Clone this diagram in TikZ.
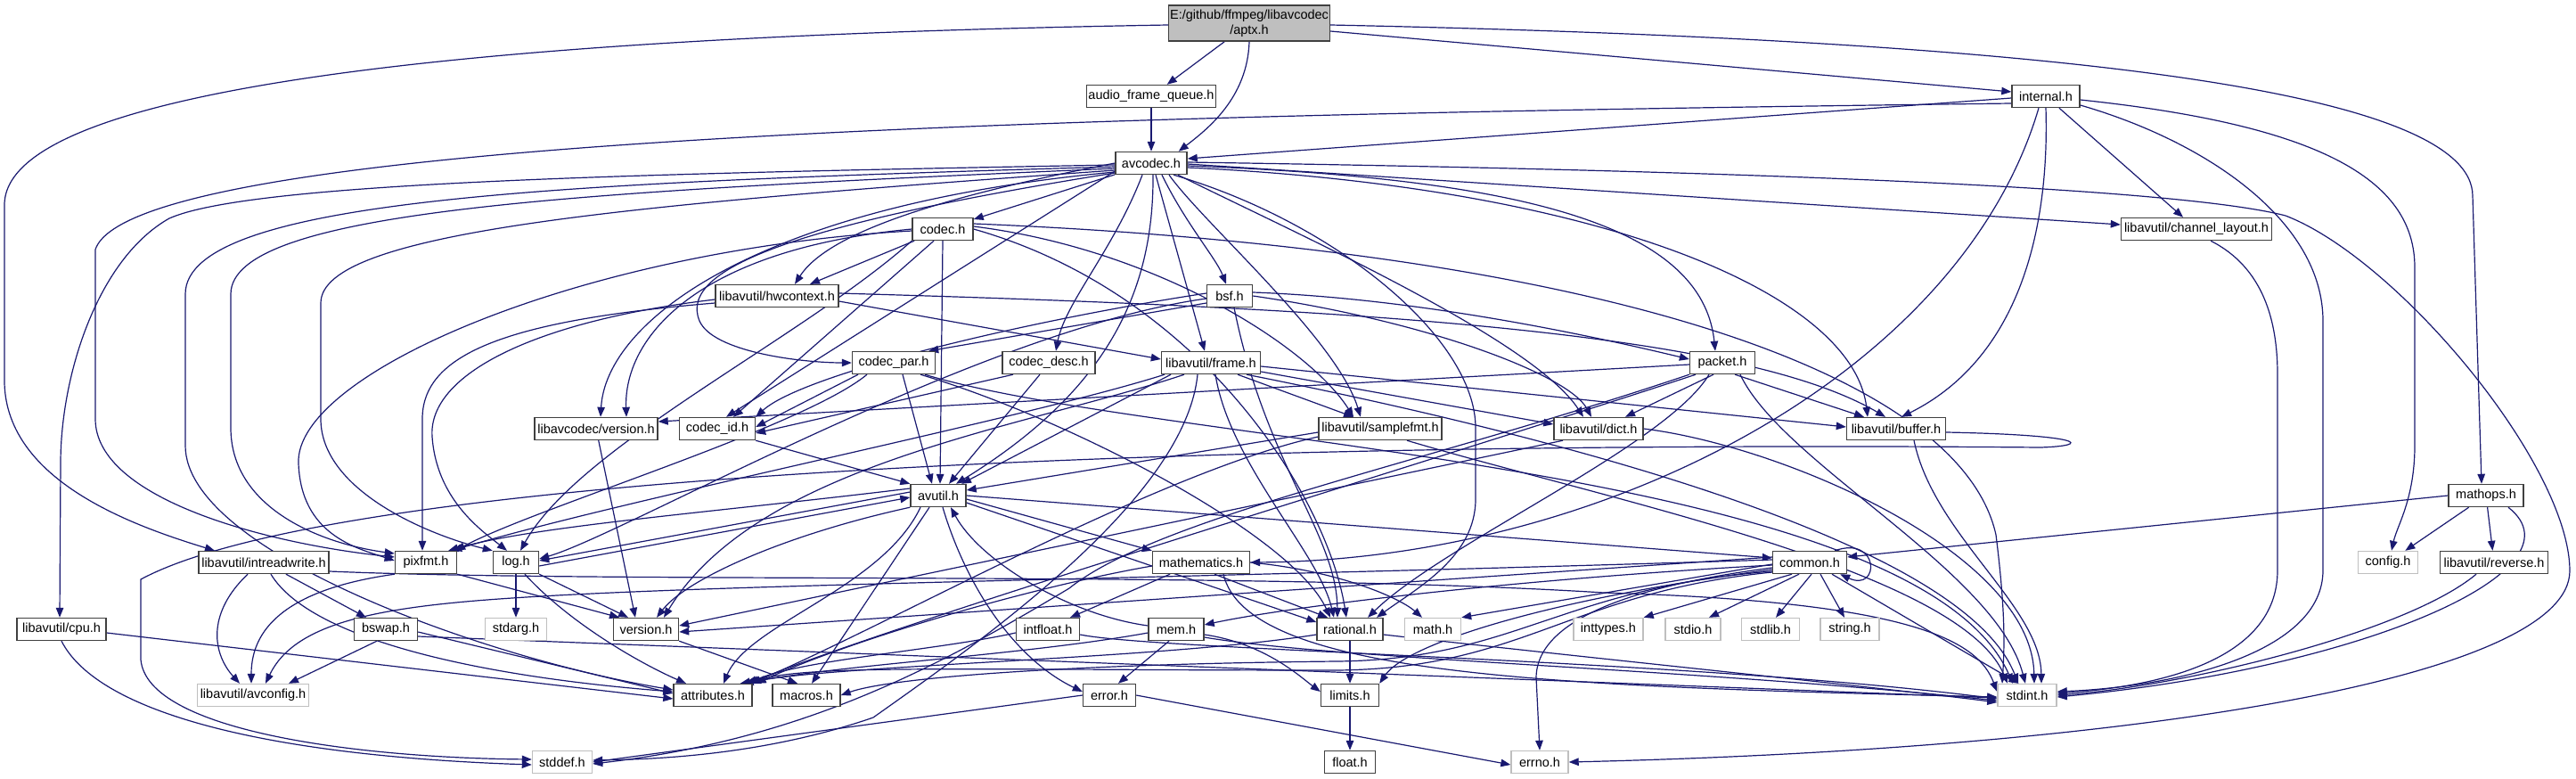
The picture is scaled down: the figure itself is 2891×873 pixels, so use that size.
\documentclass[tikz,border=0pt]{standalone}
\usepackage{fontspec}
\setmainfont{Liberation Sans}
\usetikzlibrary{arrows.meta}
\definecolor{edgec}{HTML}{191970}
\definecolor{grayb}{HTML}{BFBFBF}
\definecolor{darkb}{HTML}{404040}
\pgfdeclarelayer{bg}
\pgfsetlayers{bg,main}
\begin{document}
\begin{tikzpicture}[x=1pt,y=-1pt,
  box/.style={draw=darkb, line width=1.4pt, fill=white, minimum height=25pt, inner sep=0pt, font=\fontsize{14.5}{16.5}\selectfont, text=black},
  gbox/.style={box, draw=grayb},
  e/.style={draw=edgec, line width=1.2pt, -{Triangle[length=11pt,width=8.5pt]}}
]
\path[use as bounding box] (0,0) rectangle (2891,873);
% nodes
\node[box, fill=grayb, minimum width=181pt, minimum height=40pt, align=center] (aptx) at (1402,26) {E:/github/ffmpeg/libavcodec\\/aptx.h};
\node[box, minimum width=145pt] (afq) at (1292,108) {audio\_frame\_queue.h};
\node[box, minimum width=80pt] (avcodec) at (1292,183) {avcodec.h};
\node[box, minimum width=76pt] (internal) at (2296,108) {internal.h};
\node[box, minimum width=169pt] (chlayout) at (2465,257) {libavutil/channel\_layout.h};
\node[box, minimum width=68pt] (codec) at (1058,257) {codec.h};
\node[box, minimum width=138pt] (hwcontext) at (872,332) {libavutil/hwcontext.h};
\node[box, minimum width=51pt] (bsf) at (1380,332) {bsf.h};
\node[box, minimum width=93pt] (codecpar) at (1003,407) {codec\_par.h};
\node[box, minimum width=104pt] (codecdesc) at (1177,407) {codec\_desc.h};
\node[box, minimum width=111pt] (frame) at (1359,407) {libavutil/frame.h};
\node[box, minimum width=73pt] (packet) at (1933,407) {packet.h};
\node[box, minimum width=138pt] (lavcversion) at (669,481) {libavcodec/version.h};
\node[box, minimum width=85pt] (codecid) at (805,481) {codec\_id.h};
\node[box, minimum width=138pt] (samplefmt) at (1549,481) {libavutil/samplefmt.h};
\node[box, minimum width=100pt] (dict) at (1794,481) {libavutil/dict.h};
\node[box, minimum width=111pt] (buffer) at (2128,481) {libavutil/buffer.h};
\node[box, minimum width=62pt] (avutil) at (1053,556) {avutil.h};
\node[box, minimum width=84pt] (mathops) at (2790,556) {mathops.h};
\node[box, minimum width=146pt] (intreadwrite) at (296,631) {libavutil/intreadwrite.h};
\node[box, minimum width=69pt] (pixfmt) at (478,631) {pixfmt.h};
\node[box, minimum width=51pt] (log) at (579,631) {log.h};
\node[box, minimum width=109pt] (mathematics) at (1348,631) {mathematics.h};
\node[box, minimum width=83pt] (common) at (2031,631) {common.h};
\node[gbox, minimum width=67pt] (config) at (2680,631) {config.h};
\node[box, minimum width=121pt] (reverse) at (2799,631) {libavutil/reverse.h};
\node[box, minimum width=100pt] (cpu) at (69,706) {libavutil/cpu.h};
\node[box, minimum width=71pt] (bswap) at (433,706) {bswap.h};
\node[gbox, minimum width=69pt] (stdarg) at (579,706) {stdarg.h};
\node[box, minimum width=73pt] (version) at (725,706) {version.h};
\node[box, minimum width=71pt] (intfloat) at (1176,706) {intfloat.h};
\node[box, minimum width=62pt] (mem) at (1320,706) {mem.h};
\node[box, minimum width=74pt] (rational) at (1515,706) {rational.h};
\node[gbox, minimum width=63pt] (math) at (1608,706) {math.h};
\node[gbox, minimum width=78pt] (inttypes) at (1805,706) {inttypes.h};
\node[gbox, minimum width=62pt] (stdio) at (1900,706) {stdio.h};
\node[gbox, minimum width=65pt] (stdlib) at (1987,706) {stdlib.h};
\node[gbox, minimum width=66pt] (string) at (2076,706) {string.h};
\node[gbox, minimum width=125pt] (avconfig) at (284,780) {libavutil/avconfig.h};
\node[box, minimum width=88pt] (attributes) at (800,780) {attributes.h};
\node[box, minimum width=76pt] (macros) at (905,780) {macros.h};
\node[box, minimum width=59pt] (error) at (1245,780) {error.h};
\node[box, minimum width=65pt] (limits) at (1515,780) {limits.h};
\node[gbox, minimum width=66pt] (stdint) at (2275,780) {stdint.h};
\node[gbox, minimum width=67pt] (stddef) at (631,855) {stddef.h};
\node[box, minimum width=57pt] (float) at (1515,855) {float.h};
\node[gbox, minimum width=64pt] (errno) at (1728,855) {errno.h};

\begin{pgfonlayer}{bg}
\fill[white] (0,0) rectangle (2891,873);
% aptx
\draw[e] (aptx) -- (afq);
\draw[e] (aptx.south) .. controls (1400,110) and (1355,145) .. ([xshift=-10pt]avcodec.north east);
\draw[e] ([yshift=-9pt]aptx.east) -- ([yshift=5pt]internal.west);
\draw[e] ([yshift=-2pt]aptx.east) .. controls (2300,45) and (2775,100) .. (2775,220) -- ([xshift=-5pt]mathops.north);
\draw[e] ([yshift=-2pt]aptx.west) .. controls (600,40) and (5,90) .. (5,230) -- (5,430) .. controls (8,540) and (150,590) .. ([xshift=-55pt]intreadwrite.north);
% afq
\draw[e] (afq) -- (avcodec);
% internal
\draw[e] ([yshift=-2pt]internal.west) -- ([yshift=5pt]avcodec.east);
\draw[e] ([yshift=-8pt]internal.west) .. controls (1300,128) and (150,150) .. (107,280) -- (107,470) .. controls (107,560) and (300,610) .. ([yshift=6pt]pixfmt.west);
\draw[e] (internal.south) .. controls (2300,250) and (2270,400) .. ([xshift=6pt]buffer.north);
\draw[e] (internal) -- (chlayout);
\draw[e] ([xshift=-8pt]internal.south) .. controls (2200,420) and (1800,628) .. (mathematics.east);
\draw[e] ([yshift=-4pt]internal.east) .. controls (2600,140) and (2710,200) .. (2710,300) -- (2710,500) .. controls (2710,560) and (2690,590) .. ([xshift=4pt]config.north);
\draw[e] ([yshift=-10pt]internal.east) .. controls (2480,160) and (2607,250) .. (2607,360) -- (2607,640) .. controls (2607,730) and (2450,770) .. ([yshift=4pt]stdint.east);
% mathops
\draw[e] (mathops.west) -- ([yshift=6pt]common.east);
\draw[e] (mathops) -- (config);
\draw[e] (mathops) -- (reverse);
\draw[e] ([xshift=25pt]mathops.south) .. controls (2905,640) and (2650,750) .. ([yshift=-2pt]stdint.east);
\draw[e] ([xshift=-20pt]reverse.south) .. controls (2700,710) and (2450,770) .. (stdint.east);
% chlayout
\draw[e] ([xshift=16pt]chlayout.south) .. controls (2540,300) and (2556,360) .. (2556,420) -- (2556,640) .. controls (2556,730) and (2450,768) .. ([yshift=2pt]stdint.east);
% avcodec
\draw[e] (avcodec) -- (codec);
\draw[e] (avcodec.west) .. controls (1060,220) and (930,260) .. ([xshift=20pt]hwcontext.north);
\draw[e] ([xshift=-10pt]avcodec.south) .. controls (1250,280) and (1195,340) .. ([xshift=8pt]codecdesc.north);
\draw[e] ([xshift=2pt]avcodec.south) .. controls (1295,330) and (1240,440) .. ([xshift=20pt]avutil.north);
\draw[e] ([xshift=5pt]avcodec.south) -- ([xshift=-7pt]frame.north);
\draw[e] ([xshift=12pt]avcodec.south) .. controls (1330,250) and (1365,290) .. ([xshift=-4pt]bsf.north);
\draw[e] ([xshift=20pt]avcodec.south) .. controls (1350,250) and (1500,380) .. ([xshift=-22pt]samplefmt.north);
\draw[e] ([xshift=30pt]avcodec.south) .. controls (1450,260) and (1720,380) .. ([xshift=-17pt]dict.north);
\draw[e] ([yshift=-3pt]avcodec.east) .. controls (1700,200) and (1910,250) .. ([xshift=-8pt]packet.north);
\draw[e] ([yshift=-5pt]avcodec.east) .. controls (1800,210) and (2080,330) .. ([xshift=-32pt]buffer.north);
\draw[e] ([yshift=-1pt]avcodec.east) -- ([yshift=5pt]chlayout.west);
\draw[e] ([yshift=1pt]avcodec.east) .. controls (2000,192) and (2450,212) .. (2565,242) .. controls (2690,290) and (2883,520) .. (2884,640) .. controls (2885,760) and (2400,840) .. (errno.east);
\draw[e] ([yshift=-2pt]avcodec.west) .. controls (700,195) and (280,205) .. (190,245) .. controls (110,290) and (68,420) .. (68,520) -- ([xshift=-2pt]cpu.north);
\draw[e] ([yshift=-4pt]avcodec.west) .. controls (650,205) and (208,220) .. (208,330) -- (208,500) .. controls (208,620) and (550,740) .. ([yshift=6pt]attributes.west);
\draw[e] ([yshift=-6pt]avcodec.west) .. controls (650,215) and (259,235) .. (259,330) -- (259,480) .. controls (259,570) and (360,610) .. ([yshift=10pt]pixfmt.west);
\draw[e] ([yshift=-8pt]avcodec.west) .. controls (700,230) and (360,260) .. (360,340) -- (360,470) .. controls (360,550) and (480,600) .. (log.north west);
\draw[e] ([xshift=25pt]avcodec.south) .. controls (1500,250) and (1656,380) .. (1656,480) -- (1656,560) .. controls (1656,625) and (1590,660) .. ([xshift=30pt]rational.north);
\draw[e] ([yshift=-9pt]avcodec.west) -- ([xshift=10pt]codecid.north);
\draw[e] ([yshift=-10pt]avcodec.west) .. controls (850,230) and (680,360) .. ([xshift=5pt]lavcversion.north);
\draw[e] ([yshift=-11pt]avcodec.west) .. controls (900,250) and (760,300) .. (785,360) .. controls (800,395) and (900,407) .. (codecpar.west);
% codec
\draw[e] (codec) -- ([xshift=37pt]hwcontext.north);
\draw[e] (codec.south west) .. controls (900,380) and (650,500) .. ([xshift=5pt]log.north);
\draw[e] ([yshift=-2pt]codec.west) .. controls (650,280) and (330,420) .. (335,520) .. controls (338,600) and (400,615) .. ([yshift=2pt]pixfmt.west);
\draw[e] (codec.east) .. controls (1350,330) and (1490,560) .. ([xshift=-4pt]rational.north);
\draw[e] ([yshift=3pt]codec.east) .. controls (1300,280) and (1470,390) .. ([xshift=-30pt]samplefmt.north);
\draw[e] ([yshift=6pt]codec.east) .. controls (1800,280) and (2200,420) .. (2240,600) .. controls (2250,680) and (2250,720) .. ([xshift=-28pt]stdint.north);
\draw[e] ([xshift=-10pt]codec.south) -- ([xshift=18pt]codecid.north);
\draw[e] (codec.west) .. controls (780,280) and (700,380) .. ([xshift=34pt]lavcversion.north);
\draw[e] (codec.south) -- ([xshift=2pt]avutil.north);
% hwcontext
\draw[e] ([yshift=-6pt]hwcontext.east) -- ([yshift=4pt]frame.west);
\draw[e] ([yshift=3pt]hwcontext.east) .. controls (1500,345) and (1950,370) .. ([xshift=-12pt]buffer.north);
\draw[e] ([yshift=-4pt]hwcontext.west) .. controls (600,360) and (480,420) .. (485,490) .. controls (490,560) and (540,595) .. ([xshift=-10pt]log.north);
\draw[e] ([yshift=-8pt]hwcontext.west) .. controls (560,360) and (474,400) .. (474,470) -- ([xshift=-4pt]pixfmt.north);
% bsf
\draw[e] (bsf.east) .. controls (1600,360) and (1760,420) .. ([xshift=-8pt]dict.north);
\draw[e] ([yshift=-3pt]bsf.west) .. controls (1100,370) and (700,600) .. ([yshift=4pt]log.east);
\draw[e] ([xshift=5pt]bsf.south) .. controls (1420,520) and (1500,600) .. ([xshift=-14pt]rational.north);
\draw[e] ([yshift=3pt]bsf.west) .. controls (1150,360) and (900,420) .. (codecid.north east);
\draw[e] ([yshift=-8pt]bsf.west) -- ([xshift=-8pt]codecpar.north east);
\draw[e] ([yshift=4pt]bsf.east) .. controls (1600,335) and (1800,380) .. ([yshift=4pt]packet.west);
% codecpar
\draw[e] ([xshift=10pt]codecpar.south) -- ([xshift=-7pt]avutil.north);
\draw[e] ([xshift=30pt]codecpar.south) .. controls (1200,470) and (1450,600) .. ([xshift=-22pt]rational.north);
\draw[e] ([xshift=-30pt]codecpar.south) .. controls (900,480) and (600,570) .. ([xshift=-2pt]pixfmt.north east);
\draw[e] ([xshift=-40pt]codecpar.south) -- ([yshift=2pt]codecid.east);
\draw[e] ([xshift=35pt]codecpar.south) .. controls (1300,500) and (2150,520) .. ([xshift=-16pt]stdint.north);
% codecdesc
\draw[e] ([xshift=-10pt]codecdesc.south) -- ([xshift=12pt]avutil.north);
\draw[e] ([xshift=-40pt]codecdesc.south) -- ([yshift=-5pt]codecid.east);
% frame
\draw[e] ([xshift=-15pt]frame.south) .. controls (1330,560) and (1100,720) .. (980,805) .. controls (850,850) and (720,852) .. ([yshift=2pt]stddef.east);
\draw[e] ([xshift=40pt]frame.south) .. controls (1700,480) and (2200,600) .. ([xshift=-10pt]stdint.north);
\draw[e] ([xshift=-45pt]frame.south) -- ([xshift=26pt]avutil.north);
\draw[e] ([yshift=-4pt]frame.east) -- ([yshift=2pt]buffer.west);
\draw[e] ([yshift=-10pt]frame.east) -- ([yshift=5pt]dict.west);
\draw[e] ([xshift=5pt]frame.south) .. controls (1380,520) and (1480,620) .. ([xshift=-18pt]rational.north);
\draw[e] ([xshift=30pt]frame.south) -- ([xshift=-30pt]samplefmt.north);
\draw[e] ([xshift=-52pt]frame.south) .. controls (1150,470) and (700,560) .. ([xshift=-6pt]pixfmt.north east);
\draw[e] ([xshift=-30pt]frame.south) .. controls (1150,480) and (850,520) .. ([xshift=20pt]version.north);
% packet
\draw[e] (packet.south west) .. controls (1600,520) and (1300,580) .. (1200,660) .. controls (1050,750) and (900,830) .. ([yshift=-2pt]stddef.east);
\draw[e] ([xshift=20pt]packet.south) .. controls (2000,520) and (2240,640) .. ([xshift=-2pt]stdint.north);
\draw[e] ([xshift=-30pt]packet.south) .. controls (1600,520) and (1000,700) .. ([xshift=-4pt]attributes.north east);
\draw[e] ([xshift=14pt]packet.south) -- ([xshift=-36pt]buffer.north);
\draw[e] ([xshift=-10pt]packet.south) -- ([xshift=30pt]dict.north);
\draw[e] ([xshift=-15pt]packet.south) .. controls (1870,500) and (1620,610) .. ([xshift=20pt]rational.north);
\draw[e] ([yshift=-2pt]packet.west) -- ([yshift=8pt]lavcversion.east);
% lavcversion, codecid
\draw[e] (lavcversion) -- ([xshift=-12pt]version.north);
\draw[e] (codecid.south east) -- (avutil.north west);
% samplefmt
\draw[e] ([xshift=30pt]samplefmt.south) .. controls (1800,560) and (2200,640) .. ([xshift=-22pt]stdint.north);
\draw[e] ([yshift=-4pt]samplefmt.west) -- ([yshift=6pt]avutil.east);
\draw[e] ([yshift=-9pt]samplefmt.west) .. controls (1300,530) and (1000,700) .. ([xshift=-2pt]attributes.north east);
% dict
\draw[e] (dict.east) .. controls (2000,500) and (2280,620) .. ([xshift=8pt]stdint.north);
\draw[e] ([xshift=-40pt]dict.south) -- ([yshift=4pt]version.east);
% buffer
\draw[e] ([xshift=20pt]buffer.south) .. controls (2170,600) and (2290,680) .. ([xshift=16pt]stdint.north);
\draw[e] ([yshift=-4pt]buffer.east) .. controls (2340,488) and (2350,500) .. (2290,502) .. controls (1500,495) and (400,520) .. (158,650) -- (158,740) .. controls (165,820) and (400,850) .. ([yshift=3pt]stddef.west);
% avutil
\draw[e] (avutil.east) -- ([yshift=5pt]common.west);
\draw[e] ([xshift=5pt]avutil.south) .. controls (1085,660) and (1140,740) .. ([yshift=4pt]error.west);
\draw[e] ([xshift=-10pt]avutil.south) -- ([xshift=6pt]macros.north);
\draw[e] ([yshift=-4pt]avutil.east) -- (mathematics.north west);
\draw[e] ([yshift=-8pt]avutil.east) -- ([yshift=8pt]rational.west);
\draw[e] (avutil.south west) .. controls (880,600) and (770,650) .. ([xshift=12pt]version.north);
\draw[e] ([yshift=4pt]avutil.west) -- ([yshift=2pt]log.east);
\draw[e] ([yshift=-4pt]log.east) -- ([yshift=-2pt]avutil.west);
\draw[e] ([yshift=8pt]avutil.west) .. controls (800,575) and (600,590) .. ([xshift=-10pt]pixfmt.north east);
\draw[e] ([xshift=-20pt]avutil.south) .. controls (990,660) and (840,700) .. ([xshift=12pt]attributes.north);
% intreadwrite
\draw[e] ([xshift=-18pt]intreadwrite.south) .. controls (230,690) and (240,735) .. ([xshift=-15pt]avconfig.north);
\draw[e] ([xshift=25pt]intreadwrite.south) -- ([xshift=-22pt]bswap.north);
\draw[e] ([xshift=8pt]intreadwrite.south) .. controls (350,720) and (550,760) .. ([yshift=4pt]attributes.west);
\draw[e] ([yshift=-10pt]intreadwrite.east) .. controls (700,655) and (1400,640) .. (1800,665) .. controls (2150,675) and (2220,720) .. ([yshift=4pt]stdint.west);
% pixfmt
\draw[e] (pixfmt.south west) .. controls (330,660) and (282,700) .. ([xshift=-2pt]avconfig.north);
\draw[e] (pixfmt.south east) -- ([xshift=-30pt]version.north);
% log
\draw[e] (log) -- (stdarg);
\draw[e] ([xshift=10pt]log.south) .. controls (640,700) and (720,745) .. ([xshift=-30pt]attributes.north);
\draw[e] (log.south east) -- ([xshift=-20pt]version.north);
% mathematics
\draw[e] ([xshift=25pt]mathematics.south) .. controls (1400,760) and (1750,770) .. ([yshift=-2pt]stdint.west);
\draw[e] (mathematics.east) .. controls (1500,640) and (1570,670) .. ([xshift=-12pt]math.north);
\draw[e] ([xshift=-35pt]mathematics.south) -- ([xshift=25pt]intfloat.north);
\draw[e] ([yshift=-4pt]mathematics.west) .. controls (1150,660) and (950,720) .. ([xshift=4pt]attributes.north east);
\draw[e] ([xshift=15pt]mathematics.south) -- ([xshift=-25pt]rational.north);
% common
\draw[e] ([xshift=-14pt]common.north east) .. controls (2110,600) and (2110,665) .. ([xshift=-8pt]common.south east);
\draw[e] ([yshift=-6pt]common.west) .. controls (1850,655) and (1725,690) .. (1724,760) -- (errno.north);
\draw[e] ([xshift=-20pt]common.south) -- (inttypes.north east);
\draw[e] ([xshift=-12pt]common.south) -- ([xshift=18pt]stdio.north);
\draw[e] ([xshift=2pt]common.south) -- ([xshift=6pt]stdlib.north);
\draw[e] ([xshift=12pt]common.south) -- ([xshift=-6pt]string.north);
\draw[e] ([xshift=25pt]common.south) -- ([xshift=24pt]stdint.north west);
\draw[e] ([yshift=-8pt]common.west) .. controls (1750,670) and (1580,720) .. (limits.north east);
\draw[e] ([yshift=-2pt]common.west) -- (math.north east);
\draw[e] ([yshift=6pt]common.west) -- ([yshift=-3pt]version.east);
\draw[e] ([yshift=3pt]common.west) .. controls (1300,650) and (800,655) .. (560,672) .. controls (420,682) and (330,700) .. ([xshift=14pt]avconfig.north);
\draw[e] ([yshift=-3pt]common.west) .. controls (1700,650) and (1450,680) .. ([yshift=5pt]mem.east);
\draw[e] ([yshift=-10pt]common.west) .. controls (1750,660) and (1700,740) .. (1500,742) .. controls (1200,745) and (1000,760) .. (macros.east);
\draw[e] ([yshift=-11pt]common.west) .. controls (1760,665) and (1710,750) .. (1500,752) .. controls (1100,752) and (900,745) .. ([xshift=-2pt]attributes.north east);
% cpu, bswap, version
\draw[e] (cpu.south) .. controls (110,800) and (300,848) .. ([yshift=-3pt]stddef.west);
\draw[e] ([yshift=-4pt]cpu.east) -- ([yshift=-4pt]attributes.west);
\draw[e] ([xshift=-10pt]bswap.south) -- ([xshift=40pt]avconfig.north);
\draw[e] ([yshift=-3pt]bswap.east) -- ([yshift=2pt]attributes.west);
\draw[e] ([yshift=-8pt]bswap.east) -- ([yshift=-3pt]stdint.west);
\draw[e] (version.south east) -- ([xshift=-10pt]macros.north);
% intfloat, mem, rational
\draw[e] ([yshift=-6pt]intfloat.east) .. controls (1300,730) and (1900,740) .. ([yshift=-4pt]stdint.west);
\draw[e] ([yshift=-4pt]intfloat.west) .. controls (1050,730) and (900,740) .. ([xshift=-6pt]attributes.north east);
\draw[e] ([yshift=-6pt]mem.east) .. controls (1420,722) and (1460,760) .. ([yshift=4pt]limits.west);
\draw[e] ([yshift=-9pt]mem.east) .. controls (1500,740) and (1900,750) .. ([yshift=-6pt]stdint.west);
\draw[e] ([yshift=-4pt]mem.west) .. controls (1150,735) and (950,745) .. ([xshift=-10pt]attributes.north east);
\draw[e] ([xshift=-8pt]mem.south) -- ([xshift=10pt]error.north);
\draw[e] ([yshift=4pt]mem.west) .. controls (1200,690) and (1100,630) .. ([xshift=14pt]avutil.south);
\draw[e] ([yshift=-6pt]rational.east) .. controls (1800,740) and (2100,770) .. ([yshift=-8pt]stdint.west);
\draw[e] (rational) -- (limits);
\draw[e] ([yshift=-6pt]rational.west) .. controls (1300,740) and (950,745) .. ([xshift=-14pt]attributes.north east);
% error, limits
\draw[e] (error.east) -- ([yshift=-3pt]errno.west);
\draw[e] (error.west) -- (stddef.east);
\draw[e] (limits) -- (float);
\end{pgfonlayer}
\end{tikzpicture}
\end{document}
